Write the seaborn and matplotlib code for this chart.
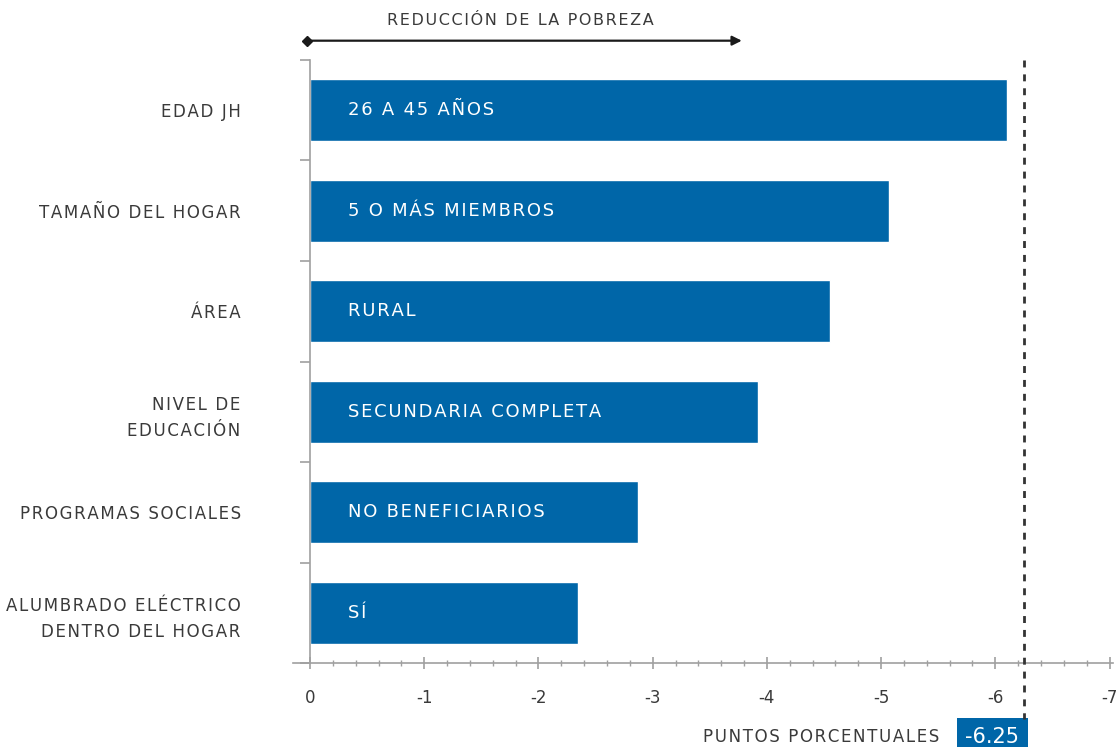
import numpy as np
import pandas as pd
import seaborn as sns
import matplotlib.pyplot as plt
from matplotlib.ticker import MultipleLocator, FixedLocator

# datos
categorias = ['EDAD JH', 'TAMAÑO DEL HOGAR', 'ÁREA', 'NIVEL DE\nEDUCACIÓN',
              'PROGRAMAS SOCIALES', 'ALUMBRADO ELÉCTRICO\nDENTRO DEL HOGAR']
etiquetas = ['26 A 45 AÑOS', '5 O MÁS MIEMBROS', 'RURAL', 'SECUNDARIA COMPLETA',
             'NO BENEFICIARIOS', 'SÍ']
valores = [-6.10, -5.07, -4.55, -3.92, -2.87, -2.35]
total = -6.25
ticks_x = [0, -1, -2, -3, -4, -5, -6, -7]

azul = '#0066a8'
gris_texto = '#3a3a3a'
gris_eje = '#a0a0a0'

HAIR = '\u200a'


def espaciar(s, sep=HAIR):
    # simula el espaciado entre letras
    return '\n'.join(sep.join(linea) for linea in s.split('\n'))


df = pd.DataFrame({'categoria': categorias, 'valor': valores})

sns.set_style('white')
plt.rcParams['font.family'] = ['DejaVu Sans']

fig = plt.figure(figsize=(11.19, 7.47), dpi=100)
ax = fig.add_axes([0.2618, 0.1124, 0.7328, 0.8073])

sns.barplot(data=df, x='valor', y='categoria', orient='h', color=azul,
            saturation=1, width=0.62, ax=ax)

ax.set_xlim(0.15, -7.03)
ax.set_ylim(5.5, -0.5)
ax.set_xlabel('')
ax.set_ylabel('')

# ejes
for s in ['top', 'right']:
    ax.spines[s].set_visible(False)
ax.spines['left'].set_position(('data', 0))
ax.spines['left'].set_color(gris_eje)
ax.spines['bottom'].set_color(gris_eje)
ax.spines['left'].set_linewidth(1.2)
ax.spines['bottom'].set_linewidth(1.2)

ax.tick_params(bottom=True, left=True, which='both')
ax.set_xticks(ticks_x)
ax.set_xticklabels([str(t) if t == 0 else '-' + str(abs(t)) for t in ticks_x],
                   color=gris_texto, fontsize=12)
ax.xaxis.set_minor_locator(MultipleLocator(0.2))
ax.tick_params(axis='x', which='major', direction='inout', length=9, width=1.2,
               color=gris_eje, pad=14)
ax.tick_params(axis='x', which='minor', direction='inout', length=5, width=1,
               color=gris_eje)

ax.set_yticks(range(len(categorias)))
ax.set_yticklabels([espaciar(c) for c in categorias], color=gris_texto,
                   fontsize=12, linespacing=1.6)
ax.yaxis.set_minor_locator(FixedLocator(np.arange(-0.5, len(categorias), 1.0)))
ax.tick_params(axis='y', which='major', length=0, pad=50)
ax.tick_params(axis='y', which='minor', direction='out', length=7, width=1.2,
               color=gris_eje)

# etiquetas dentro de las barras
for i, txt in enumerate(etiquetas):
    ax.text(-0.33, i, espaciar(txt), color='white', fontsize=13,
            va='center', ha='left')

# linea de total
ax.plot([total, total], [1.0, -0.092], transform=ax.get_xaxis_transform(),
        color='#333333', lw=2, ls=(0, (2.5, 2.5)), clip_on=False, zorder=5)
ax.text(total + 0.04, -0.122, '-6.25', transform=ax.get_xaxis_transform(),
        color='white', fontsize=15, ha='right', va='center',
        bbox=dict(boxstyle='square,pad=0.4', fc=azul, ec='none'))
ax.text(-5.51, -0.122, espaciar('PUNTOS PORCENTUALES'),
        transform=ax.get_xaxis_transform(),
        color=gris_texto, fontsize=12, ha='right', va='center')

# flecha superior
ax.annotate('', xy=(-3.78, 1.032), xytext=(0.03, 1.032),
            xycoords=ax.get_xaxis_transform(), textcoords=ax.get_xaxis_transform(),
            arrowprops=dict(arrowstyle='-|>', color='#1a1a1a', lw=1.6,
                            mutation_scale=14, shrinkA=0, shrinkB=0))
ax.plot([0.03], [1.032], marker='D', ms=5, color='#1a1a1a',
        transform=ax.get_xaxis_transform(), clip_on=False)
ax.text(-1.84, 1.066, espaciar('REDUCCIÓN DE LA POBREZA'),
        transform=ax.get_xaxis_transform(),
        color=gris_texto, fontsize=11.5, ha='center', va='center')

plt.savefig('out.png', dpi=100)
